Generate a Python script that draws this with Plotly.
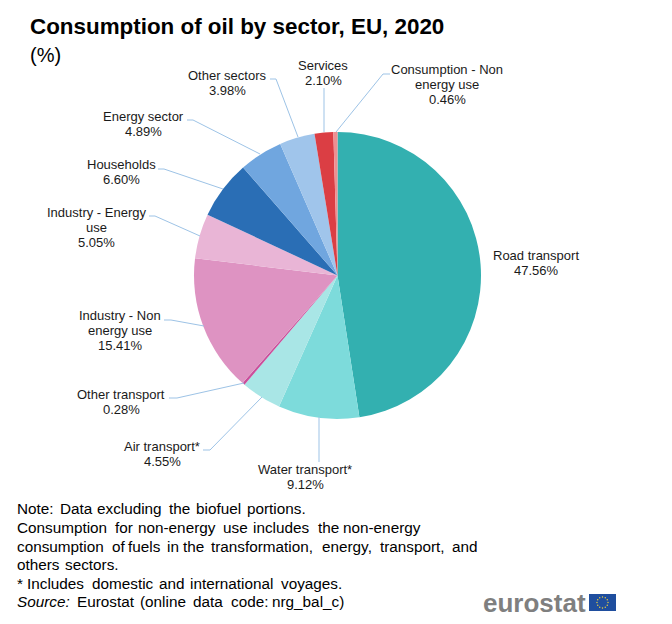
import math
import plotly.graph_objects as go

# pie data, clockwise from the top
sectors = ["Road transport", "Water transport*", "Air transport*", "Other transport",
           "Industry - Non energy use", "Industry - Energy use", "Households",
           "Energy sector", "Other sectors", "Services", "Consumption - Non energy use"]
shares = [47.56, 9.12, 4.55, 0.28, 15.41, 5.05, 6.60, 4.89, 3.98, 2.10, 0.46]
colours = ["#33B0B0", "#7DDBDB", "#A9E6E6", "#C94F9B", "#DE93C2", "#E9B5D6", "#2A6EB5",
           "#70A6DF", "#A0C5EB", "#DB3E44", "#EE8F92"]

# label lines as they are wrapped in the picture
label_lines = [["Road transport", "47.56%"], ["Water transport*", "9.12%"], ["Air transport*", "4.55%"],
               ["Other transport", "0.28%"], ["Industry - Non", "energy use", "15.41%"],
               ["Industry - Energy", "use", "5.05%"], ["Households", "6.60%"], ["Energy sector", "4.89%"],
               ["Other sectors", "3.98%"], ["Services", "2.10%"], ["Consumption - Non", "energy use", "0.46%"]]
label_x = [536, 305, 162, 121, 120, 97, 121, 143, 227, 323, 447]
label_y = [255.5, 469.5, 446.5, 394.5, 315.5, 212.5, 164.5, 116.5, 75.5, 65.5, 69.5]

# leader lines, pixels: start at label, optional elbow, end at the pie
leaders = [None,
           [(319, 462), (319, 417)],
           [(203, 450), (210, 450), (262, 397)],
           [(169, 398), (177, 398), (244, 383)],
           [(164, 320), (171, 320), (204, 326)],
           [(149, 216), (155, 216), (200, 236)],
           [(158, 169), (164, 169), (223, 189)],
           [(187, 120), (193, 120), (260, 154)],
           [(270, 79), (276, 79), (298, 137)],
           [(324, 88), (324, 132)],
           [(390, 74), (383, 74), (336, 132)]]

# the note is justified in the picture, so every word has its own x
note_words = [["Note:", "Data", "excluding", "the", "biofuel", "portions."],
              ["Consumption", "for", "non-energy", "use", "includes", "the", "non-energy"],
              ["consumption", "of", "fuels", "in", "the", "transformation,", "energy,", "transport,", "and"],
              ["others", "sectors."],
              ["*", "Includes", "domestic", "and", "international", "voyages."],
              ["<i>Source:</i>", "Eurostat", "(online", "data", "code:", "nrg_bal_c)"]]
note_x = [[17, 60, 97, 169, 196, 247],
          [17, 115, 138, 223, 253, 318, 343],
          [17, 112, 128, 167, 183, 211, 322, 380, 452],
          [17, 65],
          [17, 27, 92, 159, 190, 281],
          [17, 77, 140, 193, 231, 272]]
note_y = [508, 527, 546, 564, 583, 601]

W = 672
H = 624
FONT = "Liberation Sans"


def px(x):
    return x / W


def py(y):
    return 1 - y / H


def line_shape(x0, y0, x1, y1, colour="#9DC3E6", width=1):
    return dict(type="line", xref="paper", yref="paper", x0=px(x0), y0=py(y0), x1=px(x1), y1=py(y1),
                line=dict(color=colour, width=width))


def text_at(x, y, text, size, anchor="center", colour="#1A1A1A"):
    return dict(x=px(x), y=py(y), xref="paper", yref="paper", text=text, showarrow=False,
                xanchor=anchor, yanchor="middle", align=anchor,
                borderpad=0, borderwidth=0,
                font=dict(family=FONT, size=size, color=colour))


pie = go.Pie(labels=sectors, values=shares, sort=False, direction="clockwise", rotation=0,
             marker=dict(colors=colours, line=dict(width=0)), textinfo="none", hoverinfo="label+percent",
             domain=dict(x=[px(194), px(481)], y=[py(419), py(132)]), showlegend=False)

annotations = []
shapes = []

annotations.append(text_at(30, 27, "<b>Consumption of oil by sector, EU, 2020</b>", 22.4, "left", "#000000"))
annotations.append(text_at(30, 55, "(%)", 20, "left", "#000000"))

for x, y, lines in zip(label_x, label_y, label_lines):
    for i, t in enumerate(lines):
        annotations.append(text_at(x, y + i * 15, t, 13))

for pts in leaders:
    if pts is None:
        continue
    for a, b in zip(pts[:-1], pts[1:]):
        shapes.append(line_shape(a[0], a[1], b[0], b[1]))

for y, words, xs in zip(note_y, note_words, note_x):
    for x, w in zip(xs, words):
        annotations.append(text_at(x, y, w, 15.3, "left", "#000000"))

# eurostat logo
annotations.append(text_at(483, 603, "<b>eurostat</b>", 26, "left", "#7F7F7F"))
shapes.append(dict(type="rect", xref="paper", yref="paper", x0=px(589), x1=px(616), y0=py(611), y1=py(594),
                   fillcolor="#1F4E9E", line=dict(width=0)))
for i in range(12):
    a = math.radians(i * 30)
    cx = 602.5 + 5.5 * math.cos(a)
    cy = 602.5 + 5.5 * math.sin(a)
    shapes.append(dict(type="circle", xref="paper", yref="paper", x0=px(cx - 0.7), x1=px(cx + 0.7),
                       y0=py(cy + 0.7), y1=py(cy - 0.7), fillcolor="#F2D33B", line=dict(width=0)))

fig = go.Figure(data=[pie])
fig.update_layout(width=W, height=H, margin=dict(l=0, r=0, t=0, b=0), paper_bgcolor="white",
                  annotations=annotations, shapes=shapes)
# browser default body margin would push the chart 8px off
fig.write_html("out.html", config=dict(displayModeBar=False), post_script="document.body.style.margin='0';")
